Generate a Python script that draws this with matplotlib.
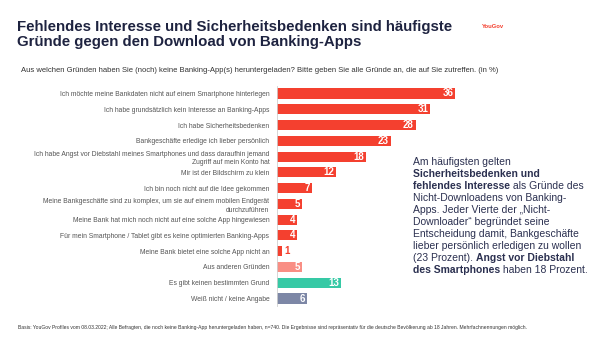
import matplotlib
matplotlib.use("Agg")
import matplotlib.pyplot as plt

categories = [
    "Ich möchte meine Bankdaten nicht auf einem Smartphone hinterlegen",
    "Ich habe grundsätzlich kein Interesse an Banking-Apps",
    "Ich habe Sicherheitsbedenken",
    "Bankgeschäfte erledige ich lieber persönlich",
    "Ich habe Angst vor Diebstahl meines Smartphones und dass daraufhin jemand\nZugriff auf mein Konto hat",
    "Mir ist der Bildschirm zu klein",
    "Ich bin noch nicht auf die Idee gekommen",
    "Meine Bankgeschäfte sind zu komplex, um sie auf einem mobilen Endgerät\ndurchzuführen",
    "Meine Bank hat mich noch nicht auf eine solche App hingewiesen",
    "Für mein Smartphone / Tablet gibt es keine optimierten Banking-Apps",
    "Meine Bank bietet eine solche App nicht an",
    "Aus anderen Gründen",
    "Es gibt keinen bestimmten Grund",
    "Weiß nicht / keine Angabe",
]
values = [36, 31, 28, 23, 18, 12, 7, 5, 4, 4, 1, 5, 13, 6]
RED, LIGHT, TEAL, SLATE = "#F4402F", "#F98E84", "#36C9A5", "#7D87A6"
colors = [RED] * 11 + [LIGHT, TEAL, SLATE]

title = "Fehlendes Interesse und Sicherheitsbedenken sind häufigste\nGründe gegen den Download von Banking-Apps"
subtitle = "Aus welchen Gründen haben Sie (noch) keine Banking-App(s) heruntergeladen? Bitte geben Sie alle Gründe an, die auf Sie zutreffen. (in %)"
footer = ("Basis: YouGov Profiles vom 08.03.2022; Alle Befragten, die noch keine Banking-App heruntergeladen haben, n=740. "
          "Die Ergebnisse sind repräsentativ für die deutsche Bevölkerung ab 18 Jahren. Mehrfachnennungen möglich.")
side_lines = [
    [("Am häufigsten gelten", False)],
    [("Sicherheitsbedenken und", True)],
    [("fehlendes Interesse", True), (" als Gründe des", False)],
    [("Nicht-Downloadens von Banking-", False)],
    [("Apps. Jeder Vierte der „Nicht-", False)],
    [("Downloader“ begründet seine", False)],
    [("Entscheidung damit, Bankgeschäfte", False)],
    [("lieber persönlich erledigen zu wollen", False)],
    [("(23 Prozent). ", False), ("Angst vor Diebstahl", True)],
    [("des Smartphones", True), (" haben 18 Prozent.", False)],
]

plt.rcParams["font.family"] = ["Liberation Sans", "DejaVu Sans"]
W, H = 600, 337
fig = plt.figure(figsize=(6, 3.37), dpi=100)
fig.patch.set_facecolor("white")

# axes
x0 = 277
ppu = 4.95
ax_w = 40 * ppu
top_px, bot_px = 85.6, 306.4
ax = fig.add_axes([x0 / W, 1 - bot_px / H, ax_w / W, (bot_px - top_px) / H])
n = len(values)
ypos = list(range(n))
ax.barh(ypos, values, height=0.64, color=colors)
ax.set_xlim(0, 40)
ax.set_ylim(n - 0.5, -0.5)
for s in ["top", "right", "bottom"]:
    ax.spines[s].set_visible(False)
ax.spines["left"].set_color("#D0D0D0")
ax.spines["left"].set_linewidth(0.6)
ax.set_xticks([])
ax.set_yticks(ypos)
ax.set_yticklabels(categories, fontsize=4.9, color="#555555", linespacing=1.35)
ax.tick_params(axis="y", length=0, pad=5.5)
ax.patch.set_alpha(0)

for y, v, c in zip(ypos, values, colors):
    if v >= 3:
        ax.text(v - 0.35, y, str(v), ha="right", va="center", fontsize=7,
                fontweight="bold", color="white")
    else:
        ax.text(v + 0.5, y, str(v), ha="left", va="center", fontsize=7,
                fontweight="bold", color=RED)

# title etc.
NAVY = "#1E2340"
fig.text(17 / W, 1 - 19.5 / H, title, ha="left", va="top", fontsize=10.8,
         fontweight="bold", color=NAVY, linespacing=1.1)
fig.text(482 / W, 1 - 27 / H, "YouGov", ha="left", va="center", fontsize=4.2,
         color=RED, fontweight="bold")
fig.text(21 / W, 1 - 70 / H, subtitle, ha="left", va="center", fontsize=5.5,
         color="#333333")
fig.text(18 / W, 1 - 327 / H, footer, ha="left", va="center", fontsize=3.6,
         color="#333333")

# side text with mixed bold
fig.canvas.draw()
renderer = fig.canvas.get_renderer()
SIDE_COL = "#2B3050"
sx = 413
sy0 = 161.5
step = 12.1
for i, line in enumerate(side_lines):
    cx = sx
    ypx = sy0 + i * step
    for txt, bold in line:
        t = fig.text(cx / W, 1 - ypx / H, txt, ha="left", va="center",
                     fontsize=7.5, fontweight="bold" if bold else "normal",
                     color=SIDE_COL)
        bb = t.get_window_extent(renderer=renderer)
        cx = cx + bb.width

fig.savefig("out.png", dpi=100, facecolor="white")
